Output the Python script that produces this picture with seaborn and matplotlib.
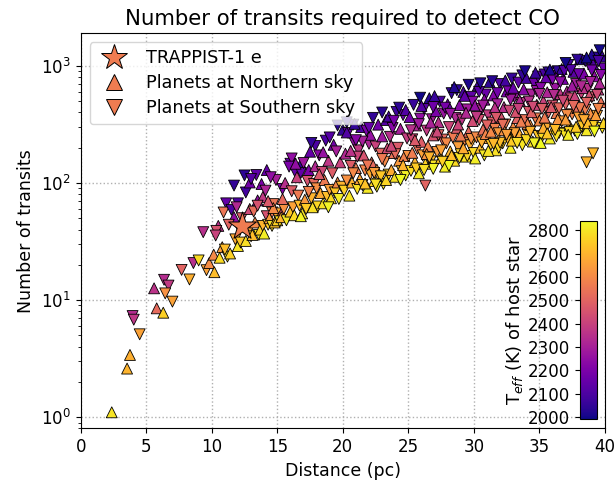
import numpy as np
import pandas as pd
import matplotlib
matplotlib.use("Agg")
import matplotlib.pyplot as plt
from matplotlib.colors import Normalize
from matplotlib.cm import ScalarMappable
from matplotlib.lines import Line2D
import seaborn as sns

# ---------------- data ----------------
dist_pc = [
    2.37, 3.54, 3.76, 4.50, 3.96, 4.05, 5.80, 6.30, 5.60, 6.36,
    6.70, 6.45, 7.00, 7.70, 8.60, 8.30, 9.00, 9.60, 9.80, 10.15,
    10.20, 9.35, 11.1, 11.7, 12.5, 12.6, 13.4, 14.2, 13.8, 13.5,
    12.0, 10.9, 11.5, 11.7, 10.5, 10.35, 10.3, 10.8, 11.2, 14.9,
    15.4, 16.0, 16.1, 16.8, 16.4, 16.8, 17.4, 17.9, 14.7, 14.6,
    14.2, 15.3, 20.8, 38.6, 39.1, 26.3,
    10.6, 11.0, 11.4, 11.8, 12.0, 12.2, 12.6, 12.8, 13.0, 13.1,
    13.3, 13.6, 13.7, 13.9, 14.0, 14.3, 14.4, 14.6, 14.8, 14.9,
    12.3, 12.9, 11.3, 12.1, 13.2, 13.9, 14.1, 14.5, 12.9, 13.0,
    11.9, 14.7, 14.3, 13.5, 15.0,
    15.2, 15.3, 15.5, 15.6, 15.7, 15.9, 16.0, 16.1, 16.2, 16.3,
    16.5, 16.6, 16.7, 16.9, 17.0, 17.1, 17.2, 17.3, 17.5, 17.6,
    17.7, 17.8, 17.9, 18.0, 18.1, 18.2, 18.3, 18.4, 18.5, 18.6,
    18.7, 18.8, 18.9, 19.0, 19.1, 19.2, 19.3, 19.4, 19.5, 19.6,
    19.7, 19.8, 19.9, 20.0, 15.4, 16.4, 17.4, 18.5, 19.0, 16.8,
    18.9, 17.6, 19.6, 18.2,
    20.1, 20.2, 20.3, 20.4, 20.5, 20.6, 20.7, 20.9, 21.0, 21.1,
    21.2, 21.3, 21.4, 21.5, 21.6, 21.7, 21.8, 21.9, 22.0, 22.1,
    22.2, 22.3, 22.4, 22.5, 22.6, 22.7, 22.8, 22.9, 23.0, 23.1,
    23.2, 23.3, 23.4, 23.5, 23.6, 23.7, 23.8, 23.9, 24.0, 24.1,
    24.2, 24.3, 24.4, 24.5, 24.6, 24.7, 24.8, 24.9, 20.3, 21.1,
    21.7, 22.1, 22.6, 23.0, 23.5, 24.0, 24.6, 20.8, 21.5, 22.4,
    23.3, 23.9, 24.4, 20.6, 21.9, 22.9, 23.7, 24.8, 20.3, 21.0,
    22.0, 23.0, 24.3, 20.9, 22.5,
    25.0, 25.1, 25.2, 25.3, 25.4, 25.5, 25.6, 25.7, 25.8, 25.9,
    26.0, 26.1, 26.2, 26.3, 26.4, 26.5, 26.6, 26.7, 26.8, 26.9,
    27.0, 27.1, 27.2, 27.3, 27.4, 27.5, 27.6, 27.7, 27.8, 27.9,
    28.0, 28.1, 28.2, 28.3, 28.4, 28.5, 28.6, 28.7, 28.8, 28.9,
    29.0, 29.1, 29.2, 29.3, 29.4, 29.5, 29.6, 29.7, 29.8, 29.9,
    25.2, 25.6, 26.0, 26.4, 26.9, 27.3, 27.8, 28.3, 28.7, 29.0,
    29.5, 29.9, 25.5, 26.2, 26.7, 27.5, 28.1, 28.8, 29.3, 29.8,
    25.9, 27.0, 28.5, 29.6, 25.3, 26.6, 27.6, 28.9, 29.2, 25.8,
    26.9, 28.2, 29.4, 27.2,
    30.0, 30.1, 30.2, 30.3, 30.4, 30.5, 30.6, 30.7, 30.8, 30.9,
    31.0, 31.1, 31.2, 31.3, 31.4, 31.5, 31.6, 31.7, 31.8, 31.9,
    32.0, 32.1, 32.2, 32.3, 32.4, 32.5, 32.6, 32.7, 32.8, 32.9,
    33.0, 33.1, 33.2, 33.3, 33.4, 33.5, 33.6, 33.7, 33.8, 33.9,
    34.0, 34.1, 34.2, 34.3, 34.4, 34.5, 34.6, 34.7, 34.8, 34.9,
    30.1, 30.6, 31.0, 31.4, 31.9, 32.3, 32.8, 33.2, 33.7, 34.1,
    34.6, 30.4, 30.9, 31.6, 32.0, 32.6, 33.1, 33.5, 34.0, 34.4,
    34.9, 30.2, 30.8, 31.3, 31.8, 32.2, 32.9, 33.4, 33.9, 34.3,
    34.8, 30.5, 31.1, 31.7, 32.5, 33.0, 33.6, 34.2, 34.7, 30.7,
    31.5, 32.4, 33.3, 34.5,
    35.0, 35.1, 35.2, 35.3, 35.4, 35.5, 35.6, 35.7, 35.8, 35.9,
    36.0, 36.1, 36.2, 36.3, 36.4, 36.5, 36.6, 36.7, 36.8, 36.9,
    37.0, 37.1, 37.2, 37.3, 37.4, 37.5, 37.6, 37.7, 37.8, 37.9,
    38.0, 38.1, 38.2, 38.3, 38.4, 38.5, 38.6, 38.7, 38.8, 38.9,
    39.0, 39.1, 39.2, 39.3, 39.4, 39.5, 39.6, 39.7, 39.8, 39.9,
    35.1, 35.5, 35.9, 36.3, 36.7, 37.1, 37.5, 37.9, 38.3, 38.7,
    39.1, 39.5, 39.9, 35.3, 35.7, 36.1, 36.5, 36.9, 37.3, 37.7,
    38.1, 38.5, 38.9, 39.3, 39.7, 35.2, 35.6, 36.0, 36.4, 36.8,
    37.2, 37.6, 38.0, 38.4, 38.8, 39.2, 39.6, 35.0, 35.4, 35.8,
    36.2, 36.6, 37.0, 37.4, 37.8, 38.2, 38.6, 39.0, 39.4, 39.8,
    37.9, 39.0, 39.5, 38.6, 37.0,
]

n_transits = [
    1.1, 2.6, 3.4, 5.1, 7.3, 6.8, 8.5, 7.8, 12.6, 14.9,
    13.3, 11.4, 9.7, 18.1, 20.7, 15.0, 21.8, 18.0, 20.7, 24.4,
    17.3, 38, 67, 95, 116, 83, 117, 129, 98, 71,
    67, 56, 59, 51, 43, 39, 35.6, 28.3, 23.5, 106,
    89, 146, 162, 146, 122, 122, 129, 207, 66, 56,
    52, 56, 315, 150, 179, 95,
    23, 27, 25, 33, 29, 31, 32, 39, 35, 36,
    46, 36, 40, 43, 37, 44, 50, 43, 46, 55,
    50, 60, 44, 41, 57, 76, 86, 112, 101, 108,
    62, 61, 70, 64, 48,
    47, 51, 60, 100, 48, 138, 57, 85, 62, 53,
    112, 78, 64, 55, 148, 72, 60, 104, 185, 74,
    62, 98, 139, 90, 63, 172, 82, 124, 67, 106,
    230, 76, 155, 87, 74, 121, 212, 83, 186, 101,
    73, 150, 93, 285, 73, 146, 84, 183, 245, 52,
    62, 220, 310, 119,
    86, 178, 105, 268, 78, 140, 101, 220, 134, 89,
    190, 108, 300, 96, 172, 128, 280, 91, 216, 119,
    150, 360, 104, 205, 130, 315, 111, 178, 250, 98,
    152, 345, 198, 118, 248, 129, 295, 180, 113, 405,
    200, 155, 290, 126, 380, 170, 116, 240, 330, 168,
    99, 258, 93, 160, 370, 176, 142, 121, 226, 122,
    106, 340, 106, 188, 141, 114, 208, 420, 270, 232,
    296, 400, 440, 320, 97,
    170, 365, 127, 236, 465, 151, 310, 196, 121, 355,
    225, 172, 430, 146, 280, 206, 530, 153, 350, 255,
    141, 410, 184, 330, 495, 164, 235, 392, 138, 218,
    470, 300, 186, 585, 244, 155, 360, 296, 202, 462,
    176, 348, 600, 230, 168, 425, 274, 210, 545, 338,
    282, 133, 455, 177, 132, 256, 440, 172, 620, 254,
    170, 495, 232, 129, 328, 190, 140, 316, 555, 238,
    535, 552, 660, 690, 181, 165, 152, 164, 198, 318,
    445, 390, 398, 275,
    180, 460, 245, 680, 345, 200, 430, 286, 172, 570,
    242, 378, 730, 212, 328, 560, 290, 190, 470, 266,
    700, 362, 218, 445, 316, 605, 238, 415, 200, 780,
    300, 540, 234, 358, 720, 260, 482, 210, 630, 344,
    790, 262, 405, 312, 570, 226, 705, 356, 465, 252,
    162, 222, 310, 740, 200, 282, 515, 405, 830, 320,
    218, 600, 262, 440, 221, 620, 266, 505, 232, 402,
    810, 366, 515, 274, 585, 314, 230, 430, 900, 274,
    610, 710, 188, 360, 258, 650, 334, 496, 875, 458,
    216, 750, 220, 448,
    342, 650, 248, 500, 845, 292, 595, 400, 240, 820,
    458, 292, 640, 395, 900, 268, 575, 336, 775, 264,
    468, 605, 1020, 310, 528, 386, 890, 280, 700, 436,
    362, 1140, 580, 304, 860, 422, 282, 636, 1075, 392,
    540, 306, 815, 1180, 375, 628, 1360, 490, 296, 950,
    220, 800, 445, 250, 940, 380, 676, 262, 645, 324,
    1040, 430, 325, 296, 880, 565, 434, 905, 272, 552,
    436, 1100, 730, 380, 835, 430, 265, 770, 350, 505,
    258, 455, 850, 344, 560, 275, 710, 575, 362, 930,
    284, 725, 348, 920, 302, 670, 484, 915, 566, 1200,
    1130, 1250, 1100, 1180, 1060,
]

teff_k = [
    2800, 2700, 2690, 2660, 2340, 2370, 2520, 2760, 2360, 2340,
    2380, 2620, 2660, 2500, 2350, 2690, 2780, 2660, 2610, 2600,
    2720, 2350, 2150, 2050, 2040, 2080, 2140, 2150, 2200, 2250,
    2100, 2550, 2100, 2250, 2350, 2450, 2400, 2650, 2800, 2300,
    2200, 2150, 2250, 2050, 2150, 2150, 2200, 2100, 2550, 2550,
    2450, 2450, 2080, 2700, 2710, 2500,
    2780, 2720, 2760, 2680, 2800, 2740, 2790, 2650, 2770, 2720,
    2600, 2800, 2760, 2700, 2820, 2750, 2650, 2790, 2730, 2680,
    2480, 2420, 2500, 2580, 2530, 2380, 2320, 2250, 2180, 2120,
    2330, 2600, 2470, 2450, 2760,
    2790, 2700, 2620, 2350, 2810, 2200, 2740, 2480, 2660, 2780,
    2400, 2560, 2720, 2800, 2280, 2640, 2750, 2450, 2150, 2700,
    2790, 2520, 2330, 2610, 2770, 2230, 2680, 2420, 2800, 2560,
    2100, 2720, 2370, 2650, 2780, 2480, 2180, 2740, 2300, 2600,
    2820, 2400, 2700, 2050, 2520, 2250, 2580, 2260, 2120, 2830,
    2830, 2050, 2030, 2470,
    2760, 2330, 2620, 2150, 2800, 2480, 2700, 2250, 2560, 2790,
    2380, 2660, 2100, 2740, 2450, 2590, 2200, 2810, 2320, 2680,
    2520, 2050, 2770, 2400, 2630, 2180, 2720, 2500, 2280, 2800,
    2600, 2120, 2430, 2750, 2350, 2680, 2230, 2540, 2790, 2070,
    2470, 2640, 2300, 2730, 2160, 2580, 2820, 2390, 2030, 2410,
    2730, 2260, 2830, 2560, 2090, 2520, 2700, 2600, 2300, 2650,
    2770, 2190, 2850, 2360, 2550, 2740, 2420, 2110, 2110, 2230,
    2150, 2030, 2040, 2050, 2790,
    2620, 2180, 2780, 2420, 2060, 2700, 2320, 2540, 2810, 2250,
    2480, 2660, 2130, 2760, 2380, 2580, 2030, 2720, 2300, 2450,
    2800, 2200, 2640, 2350, 2100, 2740, 2520, 2270, 2820, 2600,
    2160, 2410, 2700, 2050, 2560, 2780, 2330, 2470, 2650, 2230,
    2760, 2370, 2090, 2600, 2800, 2290, 2510, 2690, 2140, 2430,
    2350, 2750, 2120, 2630, 2830, 2490, 2190, 2720, 2040, 2560,
    2770, 2230, 2470, 2790, 2310, 2660, 2850, 2410, 2140, 2620,
    2000, 2060, 2020, 2010, 2570, 2700, 2760, 2790, 2680, 2280,
    2170, 2270, 2330, 2420,
    2780, 2250, 2600, 2070, 2440, 2720, 2330, 2530, 2810, 2160,
    2660, 2390, 2040, 2740, 2480, 2220, 2580, 2790, 2300, 2640,
    2110, 2450, 2760, 2350, 2560, 2190, 2700, 2420, 2820, 2060,
    2610, 2270, 2750, 2500, 2140, 2680, 2370, 2800, 2230, 2540,
    2080, 2720, 2460, 2630, 2310, 2790, 2170, 2570, 2410, 2740,
    2820, 2690, 2500, 2030, 2770, 2620, 2280, 2450, 2050, 2590,
    2830, 2130, 2590, 2360, 2720, 2200, 2660, 2320, 2780, 2490,
    2120, 2380, 2240, 2600, 2180, 2530, 2750, 2400, 2010, 2700,
    2260, 2020, 2800, 2470, 2650, 2160, 2570, 2350, 2060, 2290,
    2710, 2080, 2790, 2430,
    2600, 2230, 2780, 2400, 2090, 2680, 2320, 2510, 2820, 2150,
    2450, 2720, 2270, 2560, 2040, 2760, 2370, 2640, 2190, 2800,
    2490, 2330, 2070, 2700, 2430, 2590, 2130, 2790, 2290, 2530,
    2660, 2010, 2410, 2740, 2200, 2570, 2810, 2350, 2080, 2620,
    2470, 2760, 2250, 2030, 2680, 2380, 2000, 2540, 2800, 2160,
    2840, 2150, 2470, 2790, 2060, 2610, 2280, 2830, 2360, 2720,
    2110, 2590, 2770, 2690, 2040, 2340, 2510, 2120, 2770, 2400,
    2560, 2050, 2300, 2650, 2230, 2480, 2740, 2190, 2630, 2420,
    2820, 2520, 2170, 2680, 2440, 2840, 2320, 2320, 2560, 2010,
    2720, 2240, 2650, 2110, 2750, 2330, 2500, 2180, 2430, 2060,
    2040, 2020, 2090, 2000, 2000,
]

sky = [
    "N", "N", "N", "S", "S", "S", "N", "N", "N", "S",
    "S", "S", "S", "S", "S", "S", "S", "S", "N", "N",
    "N", "S", "S", "S", "S", "S", "S", "N", "N", "N",
    "S", "S", "S", "N", "N", "S", "S", "N", "S", "S",
    "S", "S", "S", "N", "S", "S", "N", "S", "S", "S",
    "S", "N", "S", "S", "S", "S",
    "N", "S", "N", "S", "N", "S", "N", "S", "S", "N",
    "N", "S", "N", "S", "N", "S", "N", "S", "N", "S",
    "S", "N", "S", "S", "S", "N", "S", "S", "N", "S",
    "S", "N", "N", "S", "N",
    "S", "N", "S", "N", "S", "S", "N", "S", "S", "N",
    "N", "S", "S", "N", "S", "N", "S", "S", "N", "S",
    "N", "S", "N", "S", "S", "S", "N", "S", "N", "N",
    "S", "S", "N", "S", "N", "S", "N", "S", "S", "N",
    "S", "N", "S", "N", "N", "N", "S", "N", "S", "N",
    "S", "S", "S", "N",
    "S", "N", "S", "S", "N", "S", "N", "S", "N", "S",
    "S", "N", "N", "S", "N", "S", "S", "N", "S", "S",
    "N", "S", "N", "S", "N", "N", "S", "S", "N", "S",
    "S", "N", "N", "S", "S", "N", "S", "N", "N", "S",
    "S", "N", "N", "S", "S", "N", "S", "S", "S", "S",
    "N", "N", "S", "S", "N", "S", "N", "S", "S", "S",
    "N", "S", "S", "N", "S", "S", "N", "N", "N", "S",
    "S", "S", "S", "N", "S",
    "S", "N", "S", "S", "S", "N", "N", "S", "N", "S",
    "N", "S", "S", "N", "S", "N", "N", "S", "S", "N",
    "S", "N", "S", "N", "S", "N", "S", "S", "N", "S",
    "N", "S", "N", "S", "S", "N", "S", "N", "S", "N",
    "S", "S", "N", "S", "N", "S", "N", "S", "S", "N",
    "S", "S", "N", "N", "S", "S", "S", "N", "S", "N",
    "S", "S", "N", "S", "N", "S", "S", "N", "N", "S",
    "S", "N", "N", "S", "N", "S", "S", "S", "N", "S",
    "S", "S", "N", "N",
    "S", "N", "S", "N", "S", "N", "S", "N", "S", "S",
    "N", "S", "N", "S", "S", "N", "S", "N", "S", "S",
    "S", "N", "S", "N", "S", "N", "S", "S", "N", "S",
    "N", "S", "S", "N", "S", "N", "S", "S", "N", "S",
    "N", "S", "S", "N", "S", "N", "S", "S", "N", "S",
    "N", "S", "S", "S", "S", "N", "S", "N", "S", "N",
    "S", "S", "N", "N", "S", "S", "S", "N", "S", "N",
    "S", "S", "N", "N", "S", "S", "N", "S", "S", "S",
    "S", "S", "N", "S", "S", "N", "N", "S", "N", "S",
    "S", "N", "S", "S",
    "N", "S", "S", "N", "S", "S", "N", "S", "N", "S",
    "S", "N", "S", "N", "S", "S", "N", "S", "N", "S",
    "S", "N", "S", "N", "S", "S", "N", "S", "S", "N",
    "S", "N", "S", "S", "N", "S", "N", "S", "S", "N",
    "S", "S", "N", "S", "S", "N", "S", "N", "S", "S",
    "N", "N", "N", "S", "N", "S", "N", "S", "N", "N",
    "N", "S", "N", "N", "S", "S", "S", "S", "S", "N",
    "S", "S", "S", "N", "S", "S", "N", "S", "N", "S",
    "N", "S", "S", "S", "N", "S", "N", "S", "N", "N",
    "S", "S", "N", "S", "N", "S", "S", "S", "S", "N",
    "S", "N", "S", "N", "S",
]

trappist_dist = [12.3]
trappist_ntr = [43]
trappist_teff = 2566

legend_labels = ["TRAPPIST-1 e", "Planets at Northern sky", "Planets at Southern sky"]
cbar_ticks = [2000, 2100, 2200, 2300, 2400, 2500, 2600, 2700, 2800]

# ---------------- plot ----------------
df = pd.DataFrame({"dist": dist_pc, "ntr": n_transits, "teff": teff_k, "sky": sky})

fig = plt.figure(figsize=(6.16, 4.82), dpi=100)
ax = fig.add_axes([0.131, 0.111, 0.851, 0.820])

cmap = plt.get_cmap("plasma")
norm = Normalize(vmin=1993, vmax=2840)

ax.set_axisbelow(True)
ax.grid(True, which="major", linestyle=":", color="#b0b0b0", linewidth=1.0)

sns.scatterplot(data=df, x="dist", y="ntr", hue="teff", hue_norm=norm,
                palette="plasma", style="sky", markers={"N": "^", "S": "v"},
                s=62, edgecolor="black", linewidth=0.6, legend=False, ax=ax)

star_color = cmap(norm(trappist_teff))
sns.scatterplot(x=trappist_dist, y=trappist_ntr, marker="*", s=440,
                color=star_color, edgecolor="black", linewidth=0.7,
                legend=False, ax=ax)

ax.set_yscale("log")
ax.set_xlim(0, 40)
ax.set_ylim(0.8, 1900)
ax.set_xticks(range(0, 41, 5))
ax.tick_params(axis="both", which="major", labelsize=12)
ax.set_xlabel("Distance (pc)", fontsize=12.5)
ax.set_ylabel("Number of transits", fontsize=12.5)
ax.set_title("Number of transits required to detect CO", fontsize=15.3)

handles = [
    Line2D([], [], ls="", marker="*", ms=19, mfc=star_color, mec="black", mew=0.7),
    Line2D([], [], ls="", marker="^", ms=12, mfc=star_color, mec="black", mew=0.7),
    Line2D([], [], ls="", marker="v", ms=12, mfc=star_color, mec="black", mew=0.7),
]
ax.legend(handles, legend_labels, loc="upper left", fontsize=12.7,
          labelspacing=0.4)

cax = ax.inset_axes([0.952, 0.025, 0.032, 0.5])
sm = ScalarMappable(norm=norm, cmap=cmap)
cb = fig.colorbar(sm, cax=cax, ticks=cbar_ticks)
cax.yaxis.set_ticks_position("left")
cax.yaxis.set_label_position("left")
cax.tick_params(labelsize=12)
cb.set_label(r"T$_{eff}$ (K) of host star", fontsize=13, labelpad=2)

fig.savefig("out.png", dpi=100)
